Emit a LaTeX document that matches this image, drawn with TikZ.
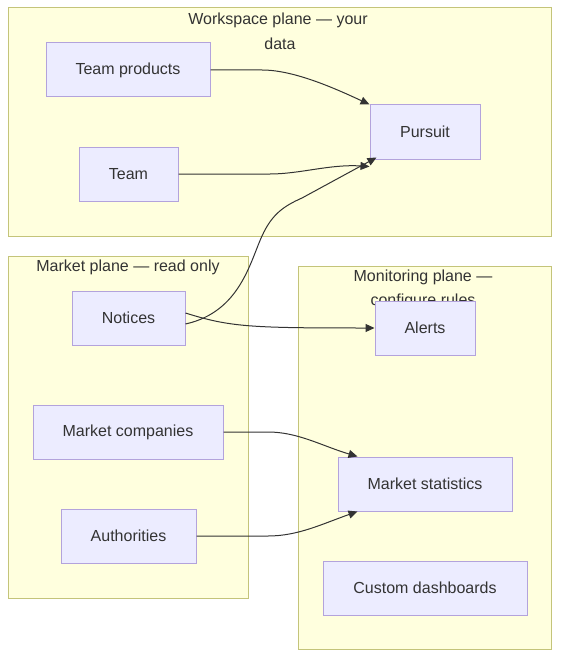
\documentclass[tikz,border=0pt]{standalone}
\usepackage{fontspec}
\setmainfont{Liberation Sans}
\usetikzlibrary{arrows.meta}
\definecolor{clfill}{HTML}{FFFFDE}
\definecolor{cldraw}{HTML}{C4C47A}
\definecolor{ndfill}{HTML}{ECECFF}
\definecolor{nddraw}{HTML}{B3A3DC}
\definecolor{txt}{HTML}{333333}
\tikzset{
  cluster/.style={fill=clfill, draw=cldraw, line width=1pt},
  box/.style={rectangle, fill=ndfill, draw=nddraw, line width=1pt, minimum height=54pt, inner sep=0pt, text=txt, font=\fontsize{16pt}{19pt}\selectfont},
  cltext/.style={text=txt, font=\fontsize{16pt}{19pt}\selectfont, inner sep=0pt},
  edge/.style={draw=txt, line width=1pt, -{Triangle[length=9pt,width=8pt]}}
}
\begin{document}
\begin{tikzpicture}[x=1pt,y=-1pt]
\useasboundingbox (0,0) rectangle (560,658);
% clusters
\draw[cluster] (8,8) rectangle (551,236);
\draw[cluster] (8,256) rectangle (248,598);
\draw[cluster] (298,266) rectangle (551,649);
\node[cltext] (wsl1) at (278,20) {Workspace plane — your};
\node[cltext] (wsl2) at (280,44) {data};
\node[cltext] (mpl) at (128,267) {Market plane — read only};
\node[cltext] (mol1) at (423,277) {Monitoring plane —};
\node[cltext] (mol2) at (423,301) {configure rules};
% nodes
\node[box, minimum width=164pt] (tp) at (128,70) {Team products};
\node[box, minimum width=99pt] (team) at (128.5,174) {Team};
\node[box, minimum width=110pt] (pursuit) at (425,132) {Pursuit};
\node[box, minimum width=113pt] (notices) at (128.5,318) {Notices};
\node[box, minimum width=190pt] (mc) at (128,432) {Market companies};
\node[box, minimum width=135pt] (auth) at (128.5,536) {Authorities};
\node[box, minimum width=100pt] (alerts) at (425,328) {Alerts};
\node[box, minimum width=174pt] (ms) at (425,484) {Market statistics};
\node[box, minimum width=204pt] (cd) at (425,588) {Custom dashboards};
% edges
\draw[edge] (tp.east) -- (262,70) .. controls (292,70) and (330,86) .. (pursuit.north west);
\draw[edge] (team.east) -- (270,174) .. controls (300,174) and (330,164) .. ([yshift=-7pt]pursuit.south west);
\draw[edge] ([yshift=-6pt]notices.east) .. controls (240,312) and (250,262) .. (262,236) .. controls (272,214) and (284,206) .. (302,198) -- ([xshift=7pt,yshift=2pt]pursuit.south west);
\draw[edge] ([yshift=5pt]notices.east) .. controls (230,327) and (250,328) .. (alerts.west);
\draw[edge] (mc.east) -- (268,432) .. controls (298,432) and (322,446) .. ([xshift=20pt]ms.north west);
\draw[edge] (auth.east) -- (268,536) .. controls (298,536) and (322,524) .. ([xshift=20pt]ms.south west);
\end{tikzpicture}
\end{document}
